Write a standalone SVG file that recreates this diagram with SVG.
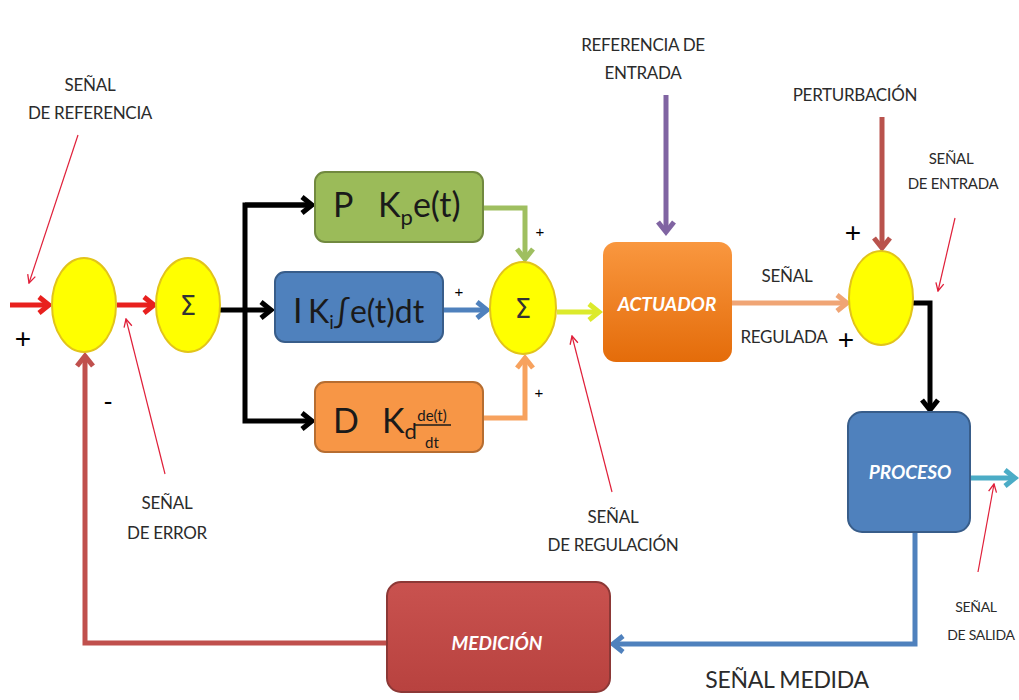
<svg xmlns="http://www.w3.org/2000/svg" width="1019" height="700" viewBox="0 0 1019 700">
  <style>
    .lbl { font-family: Lato, "Open Sans", "Liberation Sans", sans-serif; font-size: 17px; fill: #2b2b2b; text-anchor: middle; letter-spacing: -0.3px; }
    .sm { font-size: 15px; }
    .xs { font-size: 14px; }
    .med { font-size: 23px; }
    .big { font-family: Lato, "Open Sans", "Liberation Sans", sans-serif; font-size: 34px; fill: #1a1a1a; }
    .frac { font-family: Lato, "Open Sans", "Liberation Sans", sans-serif; font-size: 15px; fill: #1a1a1a; text-anchor: middle; }
    .sign { font-family: "Liberation Sans", Arial, sans-serif; fill: #000; text-anchor: middle; }
    .blk { font-family: Lato, "Open Sans", "Liberation Sans", sans-serif; font-size: 19px; font-weight: bold; font-style: italic; fill: #fff; text-anchor: middle; }
    .sum { fill: #ffff00; stroke: #e2c41a; stroke-width: 2; }
    .sigma { font-family: "DejaVu Sans", sans-serif; font-size: 26px; fill: #333; text-anchor: middle; }
    .thick { fill: none; stroke-width: 5; stroke-linejoin: miter; }
    .ptr { fill: none; stroke: #e0203a; stroke-width: 1.2; marker-end: url(#mPtr); }
  </style>
  <defs>
    <marker id="mRed" viewBox="0 0 20 20" markerWidth="20" markerHeight="20" refX="16" refY="10" orient="auto" markerUnits="userSpaceOnUse"><path d="M6,2 L16,10 L6,18" fill="none" stroke="#e8201e" stroke-width="5"/></marker>
    <marker id="mBlack" viewBox="0 0 20 20" markerWidth="20" markerHeight="20" refX="16" refY="10" orient="auto" markerUnits="userSpaceOnUse"><path d="M6,2 L16,10 L6,18" fill="none" stroke="#000" stroke-width="5"/></marker>
    <marker id="mGreen" viewBox="0 0 20 20" markerWidth="20" markerHeight="20" refX="16" refY="10" orient="auto" markerUnits="userSpaceOnUse"><path d="M6,2 L16,10 L6,18" fill="none" stroke="#9fbf60" stroke-width="5"/></marker>
    <marker id="mBlue" viewBox="0 0 20 20" markerWidth="20" markerHeight="20" refX="16" refY="10" orient="auto" markerUnits="userSpaceOnUse"><path d="M6,2 L16,10 L6,18" fill="none" stroke="#4f81bd" stroke-width="5"/></marker>
    <marker id="mOrange" viewBox="0 0 20 20" markerWidth="20" markerHeight="20" refX="16" refY="10" orient="auto" markerUnits="userSpaceOnUse"><path d="M6,2 L16,10 L6,18" fill="none" stroke="#f7a25e" stroke-width="5"/></marker>
    <marker id="mYellow" viewBox="0 0 20 20" markerWidth="20" markerHeight="20" refX="16" refY="10" orient="auto" markerUnits="userSpaceOnUse"><path d="M6,2 L16,10 L6,18" fill="none" stroke="#dcea2c" stroke-width="5"/></marker>
    <marker id="mPurple" viewBox="0 0 20 20" markerWidth="20" markerHeight="20" refX="16" refY="10" orient="auto" markerUnits="userSpaceOnUse"><path d="M6,2 L16,10 L6,18" fill="none" stroke="#8064a2" stroke-width="5"/></marker>
    <marker id="mBrown" viewBox="0 0 20 20" markerWidth="20" markerHeight="20" refX="16" refY="10" orient="auto" markerUnits="userSpaceOnUse"><path d="M6,2 L16,10 L6,18" fill="none" stroke="#b9534d" stroke-width="5"/></marker>
    <marker id="mSalmon" viewBox="0 0 20 20" markerWidth="20" markerHeight="20" refX="16" refY="10" orient="auto" markerUnits="userSpaceOnUse"><path d="M6,2 L16,10 L6,18" fill="none" stroke="#f0a575" stroke-width="5"/></marker>
    <marker id="mTeal" viewBox="0 0 20 20" markerWidth="20" markerHeight="20" refX="16" refY="10" orient="auto" markerUnits="userSpaceOnUse"><path d="M6,2 L16,10 L6,18" fill="none" stroke="#4bacc6" stroke-width="5"/></marker>
    <marker id="mFeed" viewBox="0 0 20 20" markerWidth="20" markerHeight="20" refX="16" refY="10" orient="auto" markerUnits="userSpaceOnUse"><path d="M6,2 L16,10 L6,18" fill="none" stroke="#c0504d" stroke-width="5"/></marker>
    <marker id="mPtr" viewBox="0 0 10 10" markerWidth="10" markerHeight="10" refX="9" refY="5" orient="auto" markerUnits="userSpaceOnUse"><path d="M1,1 L9,5 L1,9" fill="none" stroke="#e0203a" stroke-width="1.3"/></marker>
    <linearGradient id="gAct" x1="0" y1="0" x2="0" y2="1">
      <stop offset="0" stop-color="#f9973f"/>
      <stop offset="1" stop-color="#e46c0a"/>
    </linearGradient>
    <linearGradient id="gMed" x1="0" y1="0" x2="0" y2="1">
      <stop offset="0" stop-color="#c9524f"/>
      <stop offset="1" stop-color="#b8423f"/>
    </linearGradient>
  </defs>

  <rect width="1019" height="700" fill="#ffffff"/>

  <!-- connectors -->
  <g id="connectors">
    <line class="thick" x1="10" y1="305" x2="49" y2="305" stroke="#e8201e" marker-end="url(#mRed)"/>
    <line class="thick" x1="117" y1="305" x2="154" y2="305" stroke="#e8201e" marker-end="url(#mRed)"/>
    <!-- branch to P, I, D -->
    <line class="thick" x1="220" y1="310" x2="271" y2="310" stroke="#000" marker-end="url(#mBlack)"/>
    <polyline class="thick" points="312,205 245,205 245,421 312,421" stroke="#000" marker-end="url(#mBlack)"/>
    <line class="thick" x1="245" y1="205" x2="312" y2="205" stroke="#000" marker-end="url(#mBlack)"/>
    <!-- P, I, D into summing junction -->
    <polyline class="thick" points="483,208 525,208 525,259" stroke="#9fbf60" marker-end="url(#mGreen)"/>
    <line class="thick" x1="443" y1="310" x2="487" y2="310" stroke="#4f81bd" marker-end="url(#mBlue)"/>
    <polyline class="thick" points="483,418 525,418 525,358" stroke="#f7a25e" marker-end="url(#mOrange)"/>
    <!-- regulation signal -->
    <line class="thick" x1="557" y1="312" x2="599" y2="312" stroke="#dcea2c" marker-end="url(#mYellow)"/>
    <!-- input reference -->
    <line class="thick" x1="666" y1="95" x2="666" y2="232" stroke="#8064a2" marker-end="url(#mPurple)"/>
    <!-- disturbance -->
    <line class="thick" x1="882" y1="117" x2="882" y2="248" stroke="#b9534d" marker-end="url(#mBrown)"/>
    <!-- regulated signal -->
    <line class="thick" x1="732" y1="303" x2="847" y2="303" stroke="#f0a575" marker-end="url(#mSalmon)"/>
    <!-- to process -->
    <polyline class="thick" points="912,303 930,303 930,410" stroke="#000" marker-end="url(#mBlack)"/>
    <!-- output -->
    <line class="thick" x1="970" y1="478" x2="1015" y2="478" stroke="#4bacc6" marker-end="url(#mTeal)"/>
    <!-- measured signal -->
    <polyline class="thick" points="915,532 915,644 613,644" stroke="#4f81bd" marker-end="url(#mBlue)"/>
    <!-- feedback -->
    <polyline class="thick" points="387,643 85,643 85,356" stroke="#c0504d" marker-end="url(#mFeed)"/>

    <!-- label pointers -->
    <line class="ptr" x1="78" y1="135" x2="29" y2="283"/>
    <line class="ptr" x1="165" y1="474" x2="126" y2="319"/>
    <line class="ptr" x1="612" y1="492" x2="572" y2="336"/>
    <line class="ptr" x1="955" y1="218" x2="938" y2="291"/>
    <line class="ptr" x1="978" y1="572" x2="994" y2="484"/>
  </g>

  <!-- summing junctions -->
  <g id="sum-error">
    <ellipse class="sum" cx="84" cy="305" rx="32" ry="47"/>
  </g>
  <g id="sum-pid-in">
    <ellipse class="sum" cx="188" cy="305" rx="32" ry="47"/>
    <text class="sigma" x="188" y="315">Σ</text>
  </g>
  <g id="sum-pid-out">
    <ellipse class="sum" cx="523" cy="308" rx="33" ry="46"/>
    <text class="sigma" x="523" y="318">Σ</text>
  </g>
  <g id="sum-disturbance">
    <ellipse class="sum" cx="881" cy="298" rx="32" ry="47"/>
  </g>

  <!-- P term -->
  <g id="block-p">
    <rect x="315" y="172" width="168" height="70" rx="10" fill="#9bbb59" stroke="#71893f" stroke-width="2"/>
    <text class="big" x="333" y="217">P</text>
    <text class="big" x="378" y="217">K<tspan font-size="22" dy="8">p</tspan><tspan dy="-8">e(t)</tspan></text>
  </g>

  <!-- I term -->
  <g id="block-i">
    <rect x="275" y="272" width="168" height="70" rx="10" fill="#4f81bd" stroke="#385d8a" stroke-width="2"/>
    <text class="big" x="293" y="323">I</text>
    <text class="big" x="308" y="323" style="font-size:32px">K<tspan font-size="19" dy="6">i</tspan><tspan dy="-6">∫e(t)dt</tspan></text>
  </g>

  <!-- D term -->
  <g id="block-d">
    <rect x="315" y="382" width="168" height="70" rx="10" fill="#f79646" stroke="#b66d31" stroke-width="2"/>
    <text class="big" x="333" y="433">D</text>
    <text class="big" x="382" y="433">K<tspan font-size="22" dy="6">d</tspan></text>
    <text class="frac" x="432" y="421">de(t)</text>
    <line x1="414" y1="425" x2="451" y2="425" stroke="#1a1a1a" stroke-width="1.3"/>
    <text class="frac" x="432" y="448">dt</text>
  </g>

  <!-- actuator -->
  <g id="actuator">
    <rect x="603" y="242" width="129" height="120" rx="13" fill="url(#gAct)"/>
    <text class="blk" x="667" y="311">ACTUADOR</text>
  </g>

  <!-- process -->
  <g id="process">
    <rect x="848" y="412" width="122" height="120" rx="14" fill="#4f81bd" stroke="#385d8a" stroke-width="2"/>
    <text class="blk" x="910" y="479">PROCESO</text>
  </g>

  <!-- measurement -->
  <g id="measurement">
    <rect x="387" y="582" width="223" height="110" rx="14" fill="url(#gMed)" stroke="#8c3836" stroke-width="2"/>
    <text class="blk" x="497" y="650">MEDICIÓN</text>
  </g>

  <!-- signs -->
  <g id="signs">
    <text class="sign" x="23" y="348" font-size="28">+</text>
    <text class="sign" x="108" y="410" font-size="26">-</text>
    <text class="sign" x="540" y="237" font-size="15">+</text>
    <text class="sign" x="459" y="297" font-size="15">+</text>
    <text class="sign" x="539" y="398" font-size="15">+</text>
    <text class="sign" x="853" y="242" font-size="28">+</text>
    <text class="sign" x="846" y="349" font-size="28">+</text>
  </g>

  <!-- labels -->
  <g id="labels">
    <text class="lbl" x="90" y="91">SEÑAL</text>
    <text class="lbl" x="90" y="119">DE REFERENCIA</text>
    <text class="lbl" x="643" y="51">REFERENCIA DE</text>
    <text class="lbl" x="643" y="79">ENTRADA</text>
    <text class="lbl" x="855" y="101">PERTURBACIÓN</text>
    <text class="lbl sm" x="951" y="164">SEÑAL</text>
    <text class="lbl sm" x="953" y="189">DE ENTRADA</text>
    <text class="lbl" x="787" y="282">SEÑAL</text>
    <text class="lbl" x="784" y="343">REGULADA</text>
    <text class="lbl" x="167" y="509">SEÑAL</text>
    <text class="lbl" x="167" y="539">DE ERROR</text>
    <text class="lbl" x="613" y="523">SEÑAL</text>
    <text class="lbl" x="613" y="551">DE REGULACIÓN</text>
    <text class="lbl xs" x="976" y="612">SEÑAL</text>
    <text class="lbl xs" x="981" y="640">DE SALIDA</text>
    <text class="lbl med" x="787" y="688">SEÑAL MEDIDA</text>
  </g>
</svg>
